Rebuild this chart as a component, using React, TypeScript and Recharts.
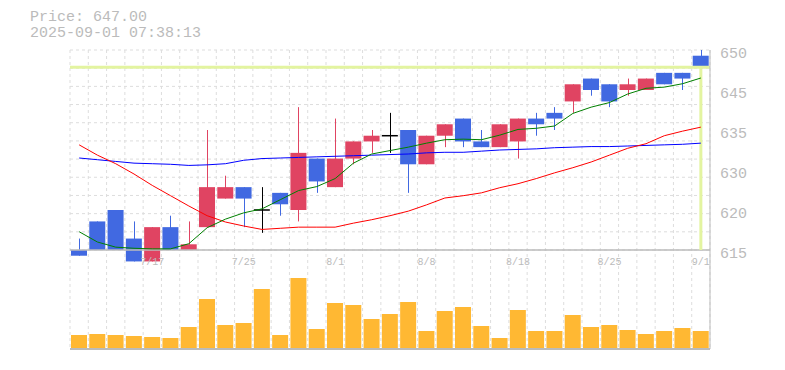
import {
  ComposedChart,
  Bar,
  Line,
  XAxis,
  YAxis,
  CartesianGrid,
  ReferenceLine,
} from 'recharts';

// trading days, 7/21 and 8/11 were holidays
const dates = [
  '7/11', '7/14', '7/15', '7/16', '7/17', '7/18', '7/22', '7/23', '7/24', '7/25',
  '7/28', '7/29', '7/30', '7/31', '8/1', '8/4', '8/5', '8/6', '8/7', '8/8',
  '8/12', '8/13', '8/14', '8/15', '8/18', '8/19', '8/20', '8/21', '8/22', '8/25',
  '8/26', '8/27', '8/28', '8/29', '9/1',
];
const opens = [
  615, 620, 622, 617, 613, 619, 615, 619, 624, 626,
  622, 625, 622, 631, 626, 631, 634, 635, 636, 630,
  635, 638, 634, 633, 634, 638, 639, 641, 645, 644,
  643, 643, 646, 646, 649,
];
const highs = [
  617, 620, 622, 620, 619, 621, 620, 636, 628, 626,
  626, 625, 640, 631, 638, 634, 636, 639, 636, 635,
  637, 638, 636, 637, 638, 639, 640, 644, 645, 644,
  645, 645, 646, 646, 650,
];
const lows = [
  614, 615, 615, 613, 613, 615, 615, 619, 624, 619,
  618, 621, 620, 625, 626, 630, 632, 632, 625, 630,
  633, 633, 633, 633, 631, 635, 636, 639, 642, 640,
  642, 643, 644, 643, 646,
];
const closes = [
  614, 615, 615, 613, 619, 615, 616, 626, 626, 624,
  622, 623, 632, 627, 631, 634, 635, 635, 630, 635,
  637, 634, 633, 637, 638, 637, 638, 644, 643, 641,
  644, 645, 644, 645, 647,
];
const ma5 = [
  618.2, 616.4, 615.5, 615.3, 615.2, 615.2, 616.1, 618.9, 620.4, 621.5,
  622.2, 623.8, 625.4, 626.1, 627.5, 630.2, 631.8, 632.4, 633.0, 633.7,
  634.3, 634.4, 634.3, 635.1, 636.1, 636.3, 636.7, 638.9, 640.0, 640.8,
  642.3, 643.3, 643.5, 644.1, 645.1,
];
const ma25 = [
  633.4, 631.6, 630.1, 628.3, 626.3, 624.5, 622.7, 621.0, 619.9, 619.2,
  618.6, 618.8, 619.0, 619.0, 619.0, 619.7, 620.3, 621.0, 621.8, 622.9,
  624.1, 624.5, 625.0, 625.9, 626.6, 627.5, 628.5, 629.4, 630.4, 631.6,
  632.8, 633.6, 635.0, 635.8, 636.5,
];
const ma75 = [
  631.1, 630.8, 630.5, 630.2, 630.1, 630.0, 629.8, 629.9, 630.1, 630.7,
  631.0, 631.1, 631.2, 631.3, 631.4, 631.5, 631.6, 631.7, 631.8, 632.0,
  632.1, 632.1, 632.3, 632.5, 632.6, 632.7, 632.9, 633.0, 633.1, 633.1,
  633.2, 633.3, 633.4, 633.5, 633.7,
];
const volumes = [
  14, 15, 14, 13, 12, 11, 22, 50, 24, 26,
  60, 14, 71, 20, 46, 44, 30, 35, 47, 18,
  38, 42, 23, 11, 39, 18, 18, 34, 22, 24,
  19, 15, 18, 21, 18,
];

const tickDates = ['7/17', '7/25', '8/1', '8/8', '8/18', '8/25', '9/1'];
const priceTicks = [650, 643, 636, 629, 622, 615];
const lastPrice = 647;
const lastDate = '9/1';
const priceText = 'Price: 647.00';
const timeText = '2025-09-01 07:38:13';

const PRICE_MAX = 650;
const PRICE_AXIS = 615;
// price panel uses the top 200px of the 299px plot, volume sits underneath
const PRICE_MIN = PRICE_AXIS - (PRICE_MAX - PRICE_AXIS) * (99 / 200);
const VOL_MAX = 299;

const UP = '#e04462';
const DOWN = '#4169e1';
const GRID = '#dddddd';
const AXIS = '#bbbbbb';
const TEXT = '#bbbbbb';
const MARK = '#e3f4a0';
const FONT = '"Liberation Mono", monospace';

const data = dates.map((date, i) => ({
  date,
  open: opens[i],
  high: highs[i],
  low: lows[i],
  close: closes[i],
  ma5: ma5[i],
  ma25: ma25[i],
  ma75: ma75[i],
  volume: volumes[i],
}));

function Candle(props: any) {
  const { x, y, width, height, payload } = props;
  const { open, high, low, close } = payload;
  const top = Math.min(y, y + height);
  const h = Math.abs(height);
  const k = h / (high - low || 1);
  const yOf = (v: number) => top + (high - v) * k;
  const color = close > open ? UP : close < open ? DOWN : '#000';
  const cx = Math.round(x + width / 2) + 0.5;
  const bTop = yOf(Math.max(open, close));
  const bBot = yOf(Math.min(open, close));
  return (
    <g>
      <line x1={cx} x2={cx} y1={top} y2={top + h} stroke={color} strokeWidth={1} />
      {open === close ? (
        <line x1={x} x2={x + width} y1={bTop} y2={bTop} stroke={color} strokeWidth={1.5} />
      ) : (
        <rect x={x} y={bTop} width={width} height={bBot - bTop} fill={color} />
      )}
    </g>
  );
}

export default function App() {
  return (
    <div style={{ position: 'absolute', left: 0, top: 0, width: 785, height: 370 }}>
      <div
        style={{
          position: 'absolute',
          left: 30,
          top: 10,
          fontFamily: FONT,
          fontSize: 15,
          lineHeight: '16px',
          color: TEXT,
          whiteSpace: 'pre',
        }}
      >
        <div>{priceText}</div>
        <div>{timeText}</div>
      </div>
      <ComposedChart
        width={785}
        height={370}
        data={data}
        margin={{ top: 50, right: 0, bottom: 0, left: 70 }}
      >
        <CartesianGrid
          yAxisId="price"
          stroke={GRID}
          strokeDasharray="3 3"
          horizontalCoordinatesGenerator={({ offset }: any) => {
            const band = (offset.height * (PRICE_MAX - PRICE_AXIS)) / (PRICE_MAX - PRICE_MIN);
            return Array.from({ length: 12 }, (_, k) => offset.top + (k * band) / 11);
          }}
          verticalCoordinatesGenerator={({ offset }: any) =>
            Array.from({ length: data.length + 1 }, (_, k) => offset.left + (k * offset.width) / data.length)
          }
        />
        <XAxis
          dataKey="date"
          ticks={tickDates}
          interval={0}
          height={21}
          tickLine={false}
          axisLine={{ stroke: AXIS, strokeWidth: 2 }}
          tick={{ fill: TEXT, fontSize: 10, fontFamily: FONT, dy: -99 }}
        />
        <XAxis xAxisId="vol" dataKey="date" hide />
        <YAxis
          yAxisId="price"
          orientation="right"
          width={75}
          domain={[PRICE_MIN, PRICE_MAX]}
          ticks={priceTicks}
          tickFormatter={(v: number) => String(Math.round(v / 5) * 5)}
          tickLine={false}
          tickMargin={4}
          axisLine={{ stroke: AXIS }}
          tick={{ fill: TEXT, fontSize: 15, fontFamily: FONT, dy: 3 }}
        />
        <YAxis yAxisId="vol" hide domain={[0, VOL_MAX]} />
        <Bar
          xAxisId="vol"
          yAxisId="vol"
          dataKey="volume"
          fill="#ffb833"
          barSize={16}
          isAnimationActive={false}
        />
        <ReferenceLine yAxisId="price" y={PRICE_AXIS} stroke={AXIS} strokeWidth={1.5} />
        <ReferenceLine yAxisId="price" y={lastPrice} stroke={MARK} strokeWidth={3} />
        <ReferenceLine
          yAxisId="price"
          segment={[
            { x: lastDate, y: lastPrice },
            { x: lastDate, y: PRICE_AXIS },
          ]}
          stroke={MARK}
          strokeWidth={3}
        />
        <Line yAxisId="price" dataKey="ma75" stroke="#0000ff" strokeWidth={1} dot={false} isAnimationActive={false} />
        <Line yAxisId="price" dataKey="ma25" stroke="#ff0000" strokeWidth={1} dot={false} isAnimationActive={false} />
        <Line yAxisId="price" dataKey="ma5" stroke="#008000" strokeWidth={1} dot={false} isAnimationActive={false} />
        <Bar
          yAxisId="price"
          dataKey={(d: any) => [d.low, d.high]}
          barSize={16}
          shape={Candle}
          isAnimationActive={false}
        />
      </ComposedChart>
    </div>
  );
}
